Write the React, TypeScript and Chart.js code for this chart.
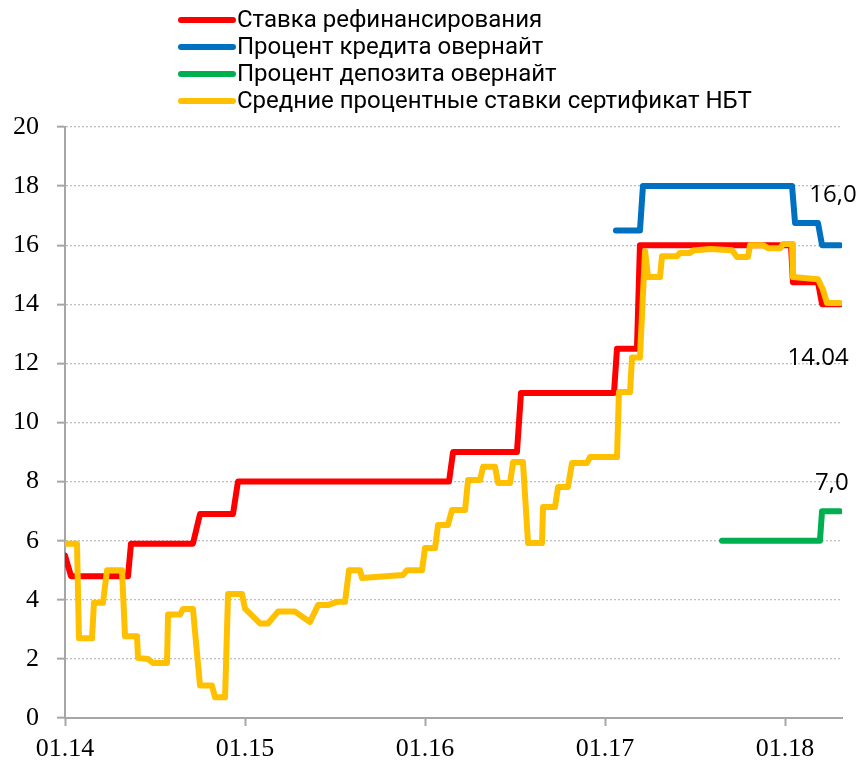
import React, { useEffect, useRef } from "react";
import { Chart, registerables } from "chart.js";

Chart.register(...registerables);

// x values are months since January 2014
const xTickMonths = [0, 12, 24, 36, 48];
const xTickLabels = ["01.14", "01.15", "01.16", "01.17", "01.18"];
const yTicks = [0, 2, 4, 6, 8, 10, 12, 14, 16, 18, 20];

const seriesNames = [
  "Ставка рефинансирования",
  "Процент кредита овернайт",
  "Процент депозита овернайт",
  "Средние процентные ставки сертификат НБТ",
];
const seriesColors = ["#FF0000", "#0070C0", "#00B050", "#FFC000"];

const refiX = [0, 0.4, 4.2, 4.4, 8.53, 9.0, 11.2, 11.53, 25.6, 25.87, 30.13, 30.4, 36.6, 36.8, 38.13, 38.33, 48.4, 48.53, 50.2, 50.47, 51.67];
const refiY = [5.5, 4.8, 4.8, 5.9, 5.9, 6.9, 6.9, 8, 8, 9, 9, 11, 11, 12.5, 12.5, 16, 16, 14.75, 14.75, 14, 14];

const creditX = [36.73, 38.33, 38.53, 48.47, 48.67, 50.2, 50.47, 51.67];
const creditY = [16.5, 16.5, 18, 18, 16.75, 16.75, 16, 16];

const depositX = [43.8, 50.33, 50.47, 51.67];
const depositY = [6, 6, 7, 7];

const certX = [0, 0.8, 0.93, 1.8, 1.93, 2.53, 2.8, 3.8, 4.0, 4.8, 4.87, 5.53, 5.87, 6.8, 6.87, 7.67, 7.87, 8.53, 9.0, 9.8, 10.0, 10.67, 10.87, 11.8, 12.0, 13.0, 13.53, 14.2, 15.33, 16.33, 16.87, 17.53, 18.13, 18.67, 18.93, 19.67, 19.8, 22.53, 22.8, 23.8, 24.0, 24.67, 24.87, 25.53, 25.8, 26.67, 26.87, 27.67, 27.87, 28.67, 28.87, 29.67, 29.87, 30.53, 30.87, 31.8, 31.87, 32.67, 32.87, 33.53, 33.8, 34.8, 35.0, 36.8, 36.93, 37.67, 37.8, 38.33, 38.67, 38.87, 39.67, 39.8, 40.8, 41.0, 41.67, 41.87, 43.0, 44.47, 44.8, 45.53, 45.67, 46.53, 46.87, 47.67, 47.87, 48.47, 48.53, 50.2, 50.53, 50.8, 51.67];
const certY = [5.9, 5.9, 2.7, 2.7, 3.9, 3.9, 5.0, 5.0, 2.77, 2.77, 2.03, 2.0, 1.86, 1.86, 3.5, 3.5, 3.69, 3.69, 1.1, 1.1, 0.7, 0.7, 4.2, 4.2, 3.7, 3.2, 3.2, 3.6, 3.6, 3.25, 3.82, 3.82, 3.93, 3.93, 5.0, 5.0, 4.74, 4.84, 5.0, 5.0, 5.75, 5.75, 6.53, 6.53, 7.04, 7.04, 8.05, 8.05, 8.5, 8.5, 7.95, 7.95, 8.66, 8.66, 5.92, 5.92, 7.14, 7.14, 7.82, 7.82, 8.63, 8.63, 8.83, 8.83, 11.03, 11.03, 12.2, 12.2, 15.8, 14.92, 14.92, 15.63, 15.63, 15.74, 15.74, 15.82, 15.87, 15.83, 15.6, 15.6, 16.0, 16.0, 15.9, 15.9, 16.04, 16.04, 14.92, 14.85, 14.5, 14.04, 14.04];

const endLabels = ["16,0", "14.04", "7,0"];
const endLabelX = [51.2, 50.2, 51.13];
const endLabelY = [17.7, 12.18, 7.95];

const toPoints = (xs: number[], ys: number[]) => xs.map((x, i) => ({ x, y: ys[i] }));

const overlayPlugin = {
  id: "overlay",
  afterDraw(chart: any) {
    const ctx = chart.ctx;
    ctx.save();
    // legend
    const rowY = [20, 47, 74, 101];
    seriesNames.forEach((name, i) => {
      ctx.strokeStyle = seriesColors[i];
      ctx.lineWidth = 6;
      ctx.lineCap = "round";
      ctx.beginPath();
      ctx.moveTo(181, rowY[i]);
      ctx.lineTo(233, rowY[i]);
      ctx.stroke();
      ctx.fillStyle = "#000000";
      ctx.font = "24px Roboto";
      ctx.textAlign = "left";
      ctx.textBaseline = "middle";
      ctx.fillText(name, 237, rowY[i] + 1);
    });
    // end value labels
    const xs = chart.scales.x;
    const ys = chart.scales.y;
    ctx.font = "24px 'Open Sans'";
    ctx.textAlign = "center";
    ctx.textBaseline = "middle";
    ctx.fillStyle = "#000000";
    endLabels.forEach((t, i) => {
      ctx.fillText(t, xs.getPixelForValue(endLabelX[i]), ys.getPixelForValue(endLabelY[i]));
    });
    ctx.restore();
  },
};

export default function App() {
  const ref = useRef<HTMLCanvasElement | null>(null);
  useEffect(() => {
    if (!ref.current) return;
    const mk = (i: number, xs: number[], ys: number[], order: number) => ({
      label: seriesNames[i],
      data: toPoints(xs, ys),
      borderColor: seriesColors[i],
      backgroundColor: seriesColors[i],
      borderWidth: 6,
      pointRadius: 0,
      tension: 0,
      fill: false,
      borderCapStyle: "round" as const,
      borderJoinStyle: "round" as const,
      order,
    });
    const chart = new Chart(ref.current, {
      type: "line",
      data: {
        datasets: [
          mk(0, refiX, refiY, 3),
          mk(1, creditX, creditY, 2),
          mk(2, depositX, depositY, 1),
          mk(3, certX, certY, 0),
        ],
      },
      options: {
        responsive: false,
        animation: false,
        layout: { padding: { top: 127, right: 19, left: 0, bottom: 0 } },
        plugins: { legend: { display: false }, tooltip: { enabled: false } },
        scales: {
          x: {
            type: "linear",
            min: 0,
            max: 51.8,
            afterBuildTicks: (s: any) => {
              s.ticks = xTickMonths.map((v) => ({ value: v }));
            },
            afterFit: (s: any) => {
              s.height = 50;
            },
            ticks: {
              autoSkip: false,
              maxRotation: 0,
              padding: 8,
              color: "#000000",
              font: { family: "'Liberation Serif'", size: 26 },
              callback: (v: any) => {
                const idx = xTickMonths.indexOf(Number(v));
                return idx >= 0 ? xTickLabels[idx] : "";
              },
            },
            grid: {
              drawOnChartArea: false,
              drawTicks: true,
              tickLength: 8,
              tickColor: "#A6A6A6",
              tickWidth: 2,
            },
            border: { color: "#A6A6A6", width: 2 },
          },
          y: {
            type: "linear",
            min: 0,
            max: 20,
            afterBuildTicks: (s: any) => {
              s.ticks = yTicks.map((v) => ({ value: v }));
            },
            afterFit: (s: any) => {
              s.width = 65;
            },
            ticks: {
              padding: 18,
              color: "#000000",
              font: { family: "'Liberation Serif'", size: 26 },
            },
            grid: {
              color: "#BFBFBF",
              lineWidth: 1.3,
              drawTicks: true,
              tickLength: 8,
              tickColor: "#A6A6A6",
              tickWidth: 2,
              tickBorderDash: [],
            },
            border: { color: "#A6A6A6", width: 2, dash: [2, 2] },
          },
        },
      },
      plugins: [overlayPlugin],
    });
    return () => chart.destroy();
  }, []);
  return (
    <div style={{ position: "absolute", left: 0, top: 0, width: 861, height: 768, background: "#ffffff" }}>
      <canvas ref={ref} width={861} height={768} style={{ display: "block" }} />
    </div>
  );
}
